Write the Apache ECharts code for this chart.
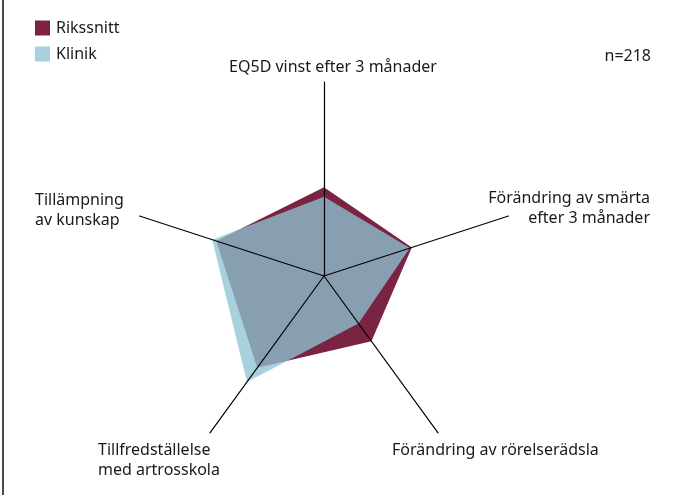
<!DOCTYPE html>
<html>
<head>
<meta charset="utf-8">
<script src="https://cdn.jsdelivr.net/npm/echarts@6/dist/echarts.min.js"></script>
<style>
  body { margin: 0; background: #fff; }
  #wrap { position: relative; width: 674px; height: 495px; }
  #chart { width: 674px; height: 495px; }
  #edge { position: absolute; left: 2px; top: 0; width: 2px; height: 495px; background: #4a4a4a; }
</style>
</head>
<body>
<div id="wrap">
  <div id="chart"></div>
  <div id="edge"></div>
</div>
<script>
// indicators, counterclockwise from the top
var indicators = [
    'EQ5D vinst efter 3 månader',
    'Tillämpning av kunskap',
    'Tillfredställelse med artrosskola',
    'Förändring av rörelserädsla',
    'Förändring av smärta efter 3 månader'
];

var rikssnitt = [45.7, 58.4, 58.5, 41.6, 47.6];
var klinik = [40.9, 60.6, 67.5, 30.2, 46.5];

var seriesNames = ['Rikssnitt', 'Klinik'];
var nText = 'n=218';

var font = '"Noto Sans", "Open Sans", sans-serif';
var fontSize = 16;

var chart = echarts.init(document.getElementById('chart'));

// axis labels sit apart from the axis ends, as in the print
function label(text, x, y, align) {
    return {
        type: 'text',
        x: x,
        y: y,
        style: {
            text: text,
            fill: '#1a1a1a',
            font: fontSize + 'px ' + font,
            textAlign: align,
            textVerticalAlign: 'middle',
            lineHeight: 20
        }
    };
}

var option = {
    animation: false,
    backgroundColor: '#fff',
    textStyle: { fontFamily: font },
    legend: {
        data: seriesNames,
        orient: 'vertical',
        left: 35,
        top: 20,
        padding: 0,
        icon: 'rect',
        itemWidth: 15,
        itemHeight: 15,
        itemGap: 10,
        textStyle: { fontSize: fontSize, color: '#1a1a1a', fontFamily: font, padding: [0, 0, 0, 1] }
    },
    radar: {
        center: [324, 276],
        radius: 194,
        z: 10,
        shape: 'polygon',
        startAngle: 90,
        indicator: indicators.map(function (name) {
            return { name: name, max: 100 };
        }),
        axisName: { show: false },
        axisLine: { lineStyle: { color: '#000', width: 1.2 } },
        axisTick: { show: false },
        axisLabel: { show: false },
        splitLine: { show: false },
        splitArea: { show: false }
    },
    graphic: [
        label(indicators[0], 333, 67, 'center'),
        label('Förändring av smärta\nefter 3 månader', 650, 208, 'right'),
        label('Tillämpning\nav kunskap', 35, 210, 'left'),
        label('Tillfredställelse\nmed artrosskola', 98, 460, 'left'),
        label(indicators[3], 392, 450, 'left'),
        label(nText, 651, 56, 'right')
    ],
    series: [
        {
            name: 'Rikssnitt',
            type: 'radar',
            z: 2,
            symbol: 'none',
            lineStyle: { width: 0 },
            itemStyle: { color: '#7b2343' },
            areaStyle: { color: '#7b2343', opacity: 1 },
            data: [{ value: rikssnitt, name: 'Rikssnitt' }]
        },
        {
            name: 'Klinik',
            type: 'radar',
            z: 3,
            symbol: 'none',
            lineStyle: { width: 0 },
            itemStyle: { color: '#a7d1dd' },
            areaStyle: { color: '#8dc3d3', opacity: 0.77 },
            data: [{ value: klinik, name: 'Klinik' }]
        }
    ]
};

chart.setOption(option);
</script>
</body>
</html>
